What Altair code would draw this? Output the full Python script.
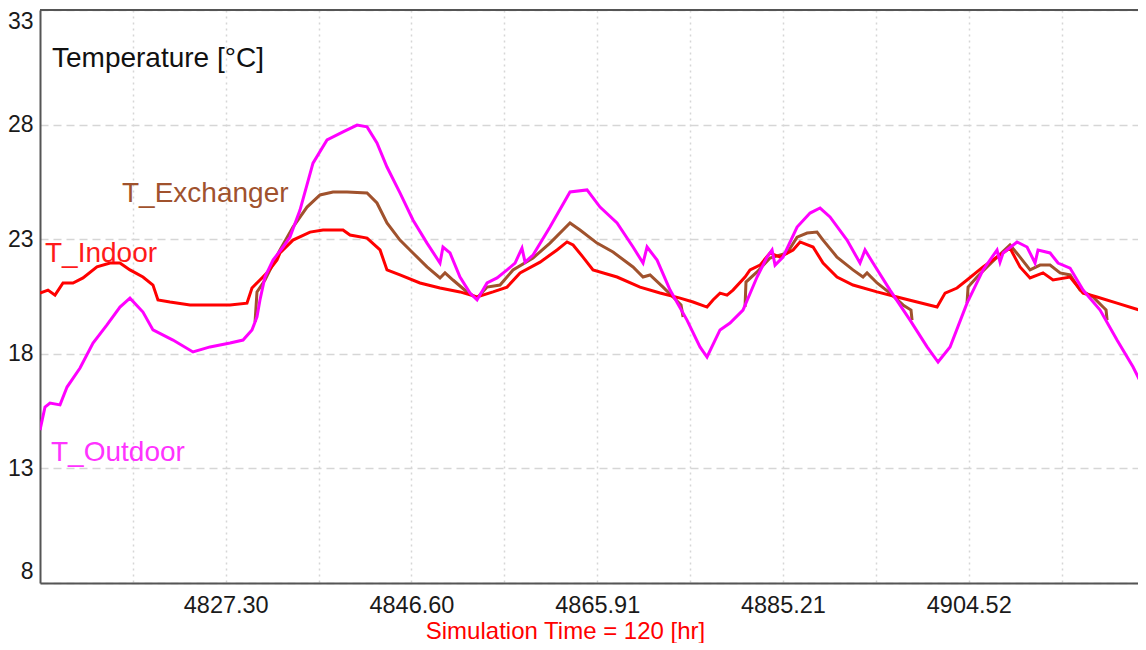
import altair as alt
import pandas as pd

# ---------------- data ----------------
out_time = [4808.00, 4808.52, 4809.04, 4810.08, 4810.81, 4812.16, 4813.51, 4814.96, 4816.31, 4817.35,
            4818.70, 4819.74, 4821.82, 4823.90, 4825.67, 4827.75, 4829.10, 4830.03, 4830.55, 4830.86,
            4831.38, 4832.22, 4833.26, 4833.98, 4835.02, 4836.37, 4837.83, 4839.49, 4840.95, 4841.99,
            4843.02, 4844.06, 4845.41, 4846.76, 4848.22, 4849.57, 4849.88, 4850.61, 4851.65, 4852.69,
            4853.42, 4854.46, 4855.50, 4856.54, 4857.37, 4858.09, 4858.41, 4859.24, 4861.00, 4863.08,
            4864.85, 4866.20, 4867.97, 4869.63, 4870.67, 4871.09, 4872.13, 4873.48, 4875.24, 4876.59,
            4877.32, 4878.67, 4879.71, 4881.06, 4882.52, 4883.56, 4884.08, 4884.39, 4885.22, 4886.68,
            4888.03, 4889.07, 4890.10, 4891.87, 4893.22, 4893.74, 4894.57, 4896.34, 4898.42, 4900.19,
            4901.33, 4902.58, 4904.34, 4906.01, 4907.46, 4907.77, 4908.09, 4909.54, 4910.58, 4911.41,
            4911.72, 4912.97, 4913.80, 4915.05, 4916.40, 4918.17, 4919.93, 4921.60, 4922.95]
out_temp = [14.67, 15.68, 15.85, 15.77, 16.55, 17.38, 18.47, 19.26, 20.04, 20.43,
            19.82, 19.04, 18.60, 18.08, 18.30, 18.47, 18.60, 19.04, 19.61, 20.35,
            21.35, 22.09, 22.66, 23.09, 24.27, 26.32, 27.33, 27.68, 27.98, 27.90,
            27.20, 26.15, 25.02, 23.84, 22.83, 21.96, 22.66, 22.40, 21.35, 20.65,
            20.35, 21.09, 21.31, 21.66, 21.96, 22.61, 22.00, 22.31, 23.53, 25.06,
            25.15, 24.40, 23.71, 22.66, 21.96, 22.66, 22.09, 20.78, 19.47, 18.30,
            17.86, 19.04, 19.34, 19.91, 21.35, 22.22, 22.53, 21.87, 22.22, 23.53,
            24.14, 24.36, 23.97, 22.96, 21.96, 22.53, 21.96, 20.78, 19.47, 18.30,
            17.64, 18.30, 20.21, 21.66, 22.53, 22.00, 22.40, 22.88, 22.66, 21.96,
            22.53, 22.40, 21.96, 21.74, 20.78, 19.91, 18.60, 17.42, 16.29]

in_time = [4808.00, 4808.83, 4809.56, 4810.39, 4811.43, 4812.47, 4813.92, 4815.28, 4816.31, 4817.35,
           4818.70, 4819.74, 4820.26, 4821.51, 4823.59, 4824.94, 4827.75, 4829.51, 4830.03, 4830.86,
           4831.59, 4832.63, 4832.94, 4834.29, 4836.06, 4837.41, 4839.49, 4840.22, 4841.99, 4843.34,
           4844.06, 4845.41, 4847.49, 4849.57, 4851.65, 4853.42, 4855.08, 4856.54, 4857.89, 4859.97,
           4861.73, 4862.77, 4863.40, 4864.43, 4865.47, 4867.97, 4870.36, 4872.44, 4874.52, 4875.87,
           4877.32, 4877.94, 4878.67, 4879.40, 4880.02, 4881.27, 4881.79, 4882.83, 4883.87, 4884.91,
           4886.26, 4886.99, 4888.34, 4889.38, 4890.83, 4892.49, 4894.99, 4897.07, 4899.15, 4901.23,
           4902.06, 4903.30, 4904.34, 4906.01, 4907.46, 4908.81, 4909.85, 4910.89, 4912.24, 4913.28,
           4915.05, 4916.40, 4917.85, 4919.93, 4922.95]
in_temp = [20.65, 20.78, 20.56, 21.09, 21.09, 21.31, 21.79, 21.96, 21.96, 21.66,
           21.35, 21.00, 20.35, 20.26, 20.13, 20.13, 20.13, 20.21, 20.87, 21.22,
           21.53, 22.09, 22.40, 22.96, 23.31, 23.40, 23.40, 23.18, 23.05, 22.53,
           21.66, 21.44, 21.09, 20.87, 20.70, 20.48, 20.70, 20.91, 21.53, 22.00,
           22.53, 22.88, 22.75, 22.22, 21.66, 21.35, 20.91, 20.65, 20.43, 20.26,
           20.04, 20.35, 20.65, 20.56, 20.78, 21.35, 21.66, 21.87, 22.40, 22.22,
           22.53, 22.88, 22.66, 21.96, 21.35, 21.00, 20.70, 20.48, 20.26, 20.04,
           20.65, 20.87, 21.22, 21.79, 22.22, 22.61, 21.79, 21.31, 21.53, 21.22,
           21.35, 20.65, 20.48, 20.21, 19.82]

# exchanger: only the periods where it differs from the outdoor curve
exch_time = [4830.35, 4830.55, 4831.38, 4832.94, 4834.29, 4835.75, 4837.10, 4838.45, 4839.91, 4841.99,
             4843.02, 4844.06, 4845.41, 4846.76, 4848.22, 4849.57, 4850.09, 4850.92, 4852.38, 4853.42,
             4854.46, 4855.81, 4857.16, 4859.24, 4861.00, 4863.08, 4864.12, 4865.89, 4867.55, 4869.63,
             4870.67, 4871.40, 4872.75, 4873.79, 4874.62, 4874.83,
             4881.27, 4881.37, 4882.52, 4883.87, 4885.64, 4886.68, 4887.72, 4888.75, 4889.38, 4890.83,
             4892.49, 4893.53, 4893.95, 4894.99, 4896.34, 4897.69, 4898.52, 4898.63,
             4904.34, 4904.45, 4905.38, 4906.42, 4907.46, 4908.81, 4909.85, 4910.89, 4911.93, 4912.97,
             4914.01, 4915.05, 4916.09, 4917.44, 4918.48, 4918.79, 4918.90]
exch_temp = [19.39, 20.70, 21.22, 22.53, 23.53, 24.40, 24.93, 25.06, 25.06, 25.02,
             24.58, 23.71, 22.96, 22.40, 21.79, 21.31, 21.53, 21.22, 20.70, 20.43,
             20.91, 21.00, 21.66, 22.18, 22.83, 23.71, 23.40, 22.83, 22.44, 21.79,
             21.35, 21.44, 20.91, 20.48, 20.13, 19.61,
             20.04, 21.13, 21.57, 22.18, 22.40, 23.09, 23.27, 23.31, 22.96, 22.22,
             21.66, 21.35, 21.53, 21.09, 20.65, 20.13, 19.91, 19.47,
             20.21, 20.91, 21.35, 21.79, 22.22, 22.75, 22.22, 21.66, 21.87, 21.87,
             21.53, 21.44, 20.78, 20.48, 20.04, 19.91, 19.47]
exch_seg = [1] * 36 + [2] * 18 + [3] * 17

major_ticks = [4827.30, 4846.60, 4865.91, 4885.21, 4904.52]
minor_ticks = [4817.65, 4836.95, 4856.26, 4875.56, 4894.87, 4914.17]
y_ticks = [8, 13, 18, 23, 28, 33]
x_domain = [4808.0, 4922.11]
y_domain = [8, 33]

# ---------------- chart ----------------
FONT = "Liberation Sans"
W, H = 1098, 573

df_out = pd.DataFrame({"time": out_time, "temp": out_temp})
df_in = pd.DataFrame({"time": in_time, "temp": in_temp})
df_ex = pd.DataFrame({"time": exch_time, "temp": exch_temp, "seg": exch_seg})

xs = alt.Scale(domain=x_domain, nice=False, zero=False)
ys = alt.Scale(domain=y_domain, nice=False, zero=False)

major_list = ",".join(f"{v:.2f}" for v in major_ticks)
x_axis = alt.Axis(
    values=sorted(major_ticks + minor_ticks),
    labelExpr=f"indexof([{major_list}], datum.value) >= 0 ? format(datum.value, '.2f') : ''",
    grid=True, gridDash=[2, 4], gridColor="#d6d6d6", gridWidth=1.5,
    ticks=False, tickSize=0,
    domainColor="#555555", domainWidth=2,
    labelFont=FONT, labelFontSize=23.5, labelColor="#1a1a1a", labelPadding=10,
    title="Simulation Time = 120 [hr]", titleColor="#ff0000", titleFont=FONT,
    titleFontSize=24, titleFontWeight="normal", titleX=525, titleY=55,
    titleAlign="center", titleBaseline="alphabetic",
)
y_axis = alt.Axis(
    values=y_ticks, grid=True, gridDash=[8, 5], gridColor="#d6d6d6", gridWidth=1.5,
    ticks=False, tickSize=0, domainColor="#555555", domainWidth=2,
    labelFont=FONT, labelFontSize=23, labelColor="#1a1a1a", labelPadding=7,
    labelFlush=True, title=None,
)

ex_line = alt.Chart(df_ex).mark_line(color="#a0522d", strokeWidth=3, clip=True).encode(
    x=alt.X("time:Q", scale=xs, axis=x_axis),
    y=alt.Y("temp:Q", scale=ys, axis=y_axis),
    detail="seg:N",
)
in_line = alt.Chart(df_in).mark_line(color="#ff0000", strokeWidth=3, clip=True).encode(
    x=alt.X("time:Q", scale=xs), y=alt.Y("temp:Q", scale=ys)
)
out_line = alt.Chart(df_out).mark_line(color="#ff00ff", strokeWidth=3, clip=True).encode(
    x=alt.X("time:Q", scale=xs), y=alt.Y("temp:Q", scale=ys)
)

# top frame line drawn as a thin rectangle
top_border = alt.Chart(pd.DataFrame({"a": [0]})).mark_rect(color="#555555").encode(
    x=alt.value(0), x2=alt.value(W), y=alt.value(-1), y2=alt.value(1)
)


def label(text, color, px, py, size=28):
    return alt.Chart(pd.DataFrame({"t": [text]})).mark_text(
        align="left", baseline="middle", font=FONT, fontSize=size, color=color
    ).encode(text="t:N", x=alt.value(px), y=alt.value(py))


chart = alt.layer(
    ex_line, in_line, out_line, top_border,
    label("Temperature [°C]", "#111111", 12, 49),
    label("T_Exchanger", "#a0522d", 82, 184),
    label("T_Indoor", "#ff1a1a", 5, 244),
    label("T_Outdoor", "#ff33ff", 11, 443),
).properties(
    width=W, height=H,
    background="white",
    autosize=alt.AutoSizeParams(type="none"),
    padding={"left": 32, "top": 2, "right": 0, "bottom": 60},
).configure_view(stroke=None, strokeWidth=0)

chart.save("out.html", embed_options={"renderer": "svg", "actions": False})
